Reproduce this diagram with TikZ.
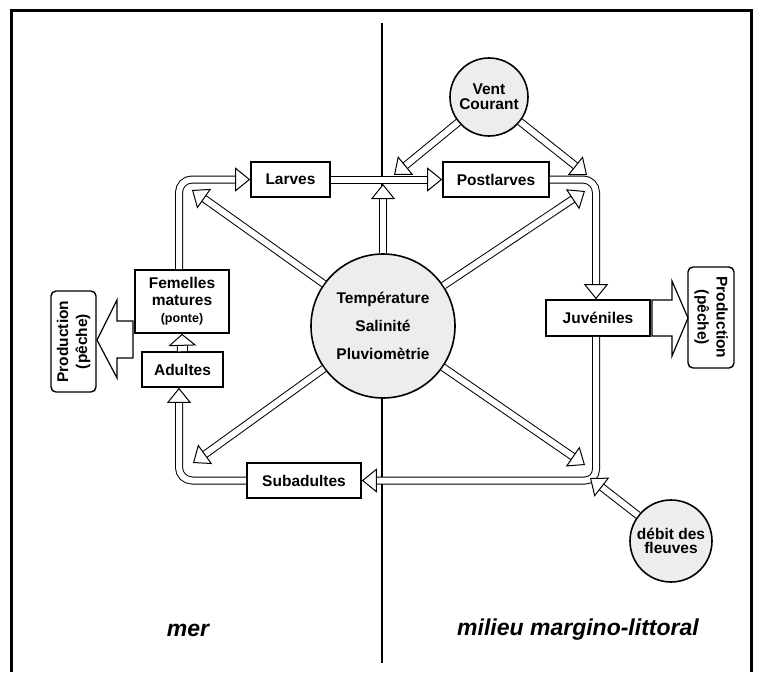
\documentclass[tikz,border=0pt]{standalone}
\usepackage{fontspec}
\setmainfont{Liberation Sans}
\usetikzlibrary{arrows.meta}

\begin{document}
\begin{tikzpicture}[x=1pt, y=-1pt,
	every node/.style={font=\bfseries\fontsize{15.5}{17}\selectfont},
	stade/.style={draw, line width=1.6pt, fill=white, inner sep=0pt, align=center},
	facteur/.style={circle, draw, line width=1.6pt, fill=black!7, inner sep=0pt, align=center},
	peche/.style={draw, line width=1.4pt, rounded corners=5pt, fill=white, inner sep=0pt, align=center},
	flux/.style={draw, line width=1pt, double=white, double distance=6pt,
		-{Triangle[length=15pt, width=24pt, line width=1pt, fill=white]}},
	grosse/.style={draw, line width=1.2pt, fill=white, line join=miter},
	milieu/.style={font=\bfseries\itshape\fontsize{23}{25}\selectfont}
]

	% ---- cadre

	\useasboundingbox (0,0) rectangle (757,672);
	\draw[line width=3pt] (11,672) -- (11,10.5) -- (751,10.5) -- (751,672);
	\draw[line width=2pt] (382,23) -- (382,663);

	% ---- stades

	\node[stade, minimum width=79pt, minimum height=35pt] (larves) at (290.5,179.5) {Larves};
	\node[stade, minimum width=106pt, minimum height=35pt] (postlarves) at (496,179.5) {Postlarves};
	\node[stade, minimum width=104pt, minimum height=36pt] (juveniles) at (598,318) {Juvéniles};
	\node[stade, minimum width=114pt, minimum height=35pt] (subadultes) at (304,480.5) {Subadultes};
	\node[stade, minimum width=81pt, minimum height=35pt] (adultes) at (182.5,369.5) {Adultes};
	\node[stade, minimum width=94pt, minimum height=63pt] (femelles) at (182,301.5)
		{Femelles\\matures\\{\fontsize{12.5}{14}\selectfont (ponte)}};

	% ---- facteurs

	\node[facteur, minimum size=144pt] (climat) at (383,326)
		{Température\\[11pt]Salinité\\[11pt]Pluviomètrie};
	\node[facteur, minimum size=78pt, font=\bfseries\fontsize{15.5}{15}\selectfont] (vent) at (489,97)
		{Vent\\Courant};
	\node[facteur, minimum size=82pt, font=\bfseries\fontsize{15.5}{14}\selectfont] (debit) at (671,541)
		{débit des\\fleuves};

	% ---- production

	\node[peche, minimum width=101pt, minimum height=45pt, rotate=90] (pecheG) at (73.5,341.5)
		{Production\\[2pt](pêche)};
	\node[peche, minimum width=101pt, minimum height=46pt, rotate=-90] (pecheD) at (711,317.5)
		{Production\\[2pt](pêche)};

	\draw[grosse] (133,321) -- (117,321) -- (117,300) -- (97,340) -- (117,378) -- (117,358) -- (133,358) -- cycle;
	\draw[grosse] (652,300) -- (672,300) -- (672,281) -- (688,318) -- (672,356) -- (672,336) -- (652,336) -- cycle;

	% ---- cycle

	\coordinate (coinHG) at (179,179.5);
	\coordinate (coinHD) at (596,179.5);
	\coordinate (coinBG) at (179,480.5);

	\draw[flux, rounded corners=13pt] (femelles.north -| coinHG) |- (larves.west);
	\draw[flux] (larves) -- (postlarves);
	\draw[flux, rounded corners=13pt] (postlarves.east) -| (juveniles.north -| coinHD);
	\draw[flux, rounded corners=11pt] (juveniles.south -| coinHD) |- (subadultes.east);
	\draw[flux, rounded corners=13pt] (subadultes.west) -| (adultes.south -| coinBG);
	\draw[flux, double distance=9pt, -{Triangle[length=12pt, width=28pt, line width=1pt, fill=white]}]
		(adultes.north) -- (femelles.south);

	% ---- influences

	\coordinate (visH) at (383,184);
	\coordinate (visHG) at (192,190);
	\coordinate (visHD) at (585,191);
	\coordinate (visBG) at (193,463);
	\coordinate (visBD) at (585,465);

	\foreach \cible in {visH,visHG,visHD,visBG,visBD} { \draw[flux] (climat) -- (\cible); }

	\coordinate (ventG) at (394,175);
	\coordinate (ventD) at (587,175);
	\coordinate (debitC) at (590,478);

	\draw[flux] (vent) -- (ventG);
	\draw[flux] (vent) -- (ventD);
	\draw[flux] (debit) -- (debitC);

	% ---- milieux

	\node[milieu] (mer) at (188,630) {mer};
	\node[milieu] (littoral) at (578,630) {milieu margino-littoral};

\end{tikzpicture}
\end{document}
